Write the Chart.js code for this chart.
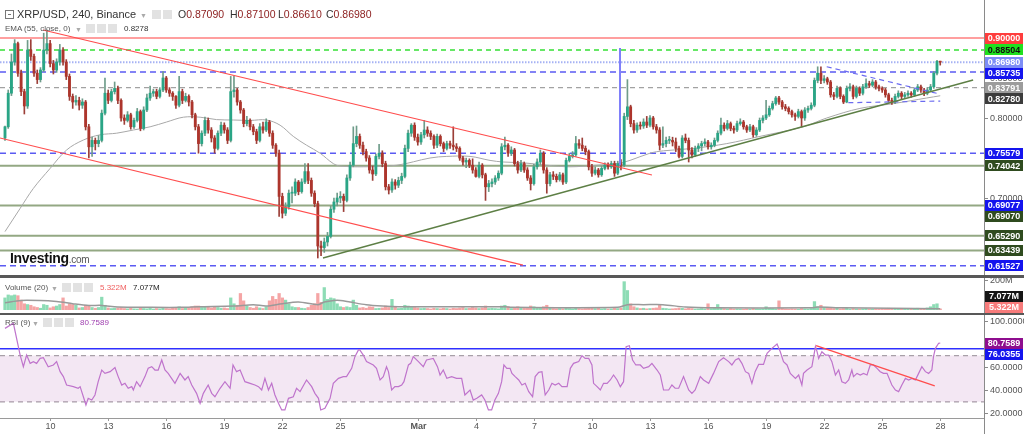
<!DOCTYPE html>
<html>
<head>
<meta charset="utf-8">
<script src="https://cdn.jsdelivr.net/npm/chart.js@4.4.1/dist/chart.umd.min.js"></script>
<style>
html, body { margin: 0; padding: 0; background: #fff; }
#wrap { position: relative; width: 1024px; height: 434px; overflow: hidden; font-family: Arial, "Liberation Sans", sans-serif; }
canvas { position: absolute; left: 0; }
.sep { position: absolute; left: 0; width: 1024px; background: #585858; }
.txt { position: absolute; white-space: nowrap; color: #333; line-height: 1; }
.ic { position: absolute; width: 9px; height: 9px; background: #e2e2e2; }
.dd { position: absolute; color: #aaa; font-size: 7px; }
.num { color: #8b1c1c; }
</style>
</head>
<body>
<div id="wrap">
  <canvas id="main" width="1024" height="275" style="top:0"></canvas>
  <div class="sep" style="top:275px;height:3px"></div>
  <canvas id="vol" width="1024" height="35" style="top:278px"></canvas>
  <div class="sep" style="top:313px;height:2px"></div>
  <canvas id="rsi" width="1024" height="119" style="top:315px"></canvas>

  <!-- header -->
  <div style="position:absolute;left:5px;top:10px;width:7px;height:7px;border:1px solid #777"><div style="position:absolute;left:2px;top:3px;width:3px;height:1px;background:#777"></div></div>
  <div class="txt" style="left:17px;top:9px;font-size:11px;color:#333">XRP/USD, 240, Binance</div>
  <div class="dd" style="left:140px;top:12px">&#9660;</div>
  <div class="ic" style="left:152px;top:10px"></div><div class="ic" style="left:163px;top:10px"></div>
  <div class="txt" style="left:178px;top:9px;font-size:10.5px">O<span class="num">0.87090</span></div>
  <div class="txt" style="left:230px;top:9px;font-size:10.5px">H<span class="num">0.87100</span></div>
  <div class="txt" style="left:278px;top:9px;font-size:10.5px">L<span class="num">0.86610</span></div>
  <div class="txt" style="left:326px;top:9px;font-size:10.5px">C<span class="num">0.86980</span></div>

  <div class="txt" style="left:5px;top:25px;font-size:8px;color:#555">EMA (55, close, 0)</div>
  <div class="dd" style="left:75px;top:26px">&#9660;</div>
  <div class="ic" style="left:86px;top:24px"></div><div class="ic" style="left:97px;top:24px"></div><div class="ic" style="left:108px;top:24px"></div>
  <div class="txt" style="left:124px;top:25px;font-size:8px;color:#333">0.8278</div>

  <div class="txt" style="left:10px;top:251px;font-size:14px;font-weight:bold;color:#111;letter-spacing:-0.3px">Investing<span style="font-size:10px;font-weight:normal;color:#555">.com</span></div>

  <div class="txt" style="left:5px;top:284px;font-size:8px;color:#555">Volume (20)</div>
  <div class="dd" style="left:51px;top:285px">&#9660;</div>
  <div class="ic" style="left:62px;top:283px"></div><div class="ic" style="left:73px;top:283px"></div><div class="ic" style="left:84px;top:283px"></div>
  <div class="txt" style="left:100px;top:284px;font-size:8px;color:#f06060">5.322M</div>
  <div class="txt" style="left:133px;top:284px;font-size:8px;color:#222">7.077M</div>

  <div class="txt" style="left:5px;top:319px;font-size:8px;color:#555">RSI (9)</div>
  <div class="dd" style="left:32px;top:320px">&#9660;</div>
  <div class="ic" style="left:43px;top:318px"></div><div class="ic" style="left:54px;top:318px"></div><div class="ic" style="left:65px;top:318px"></div>
  <div class="txt" style="left:80px;top:319px;font-size:8px;color:#a040b0">80.7589</div>
</div>

<script>
// ---- data: 4h candles (index 0 = Feb 7 16:00), prices x1000 ----
const dayTicks = [14, 32, 50, 68, 86, 104, 128, 146, 164, 182, 200, 218, 236, 254, 272, 290];
const dayLabels = ['10', '13', '16', '19', '22', '25', 'Mar', '4', '7', '10', '13', '16', '19', '22', '25', '28'];

const firstOpen = 775;
const closes = [
  789,831,870,893,856,833,815,885,877,856,
  848,860,885,893,868,860,870,885,870,852,
  827,820,822,816,820,789,764,772,768,772,
  806,831,822,833,837,822,800,797,804,789,
  797,808,787,810,825,831,833,827,835,850,
  835,831,827,816,833,822,827,820,804,789,
  768,781,797,785,775,762,781,791,785,772,
  833,835,820,810,793,797,789,783,772,789,
  785,795,781,766,756,702,681,689,706,706,
  720,708,720,733,722,706,693,640,638,645,
  652,686,695,700,702,697,725,741,768,777,
  766,758,750,735,730,752,756,743,714,710,
  720,716,722,727,762,781,791,776,770,779,
  785,781,777,766,777,768,762,768,766,764,
  762,750,745,747,741,735,727,741,729,714,
  718,720,725,731,764,766,756,760,743,735,
  743,735,725,718,739,745,756,735,718,729,
  727,723,729,720,747,752,754,768,766,762,
  758,739,731,735,729,737,741,739,743,731,
  743,741,802,814,793,785,791,790,795,791,
  800,789,785,766,768,772,772,770,762,752,
  775,772,760,754,762,765,768,770,764,766,
  772,781,791,787,793,787,785,793,795,789,
  785,789,779,785,797,800,804,812,818,825,
  820,814,812,808,804,802,808,800,810,812,
  816,847,856,847,849,845,829,827,837,827,
  820,837,839,827,837,831,839,843,841,845,
  839,837,835,829,822,820,827,831,827,829,
  831,829,835,839,835,831,835,839,856,870.9,
  869.8
];
const highs = [
  790,835,880,898,895,860,836,897,898,880,
  860,863,906,910,897,872,874,892,888,873,
  855,830,828,826,824,822,792,776,775,778,
  810,850,835,836,845,840,824,804,808,806,
  800,812,810,814,830,840,836,836,838,858,
  852,838,833,828,852,836,831,829,822,806,
  792,784,801,800,788,778,784,795,794,788,
  852,852,837,822,812,802,799,792,786,793,
  795,799,797,784,768,760,706,694,710,714,
  724,722,724,743,743,725,709,696,646,650,
  657,690,700,706,708,705,729,745,789,790,
  780,770,761,753,740,755,767,759,746,717,
  724,723,726,731,766,785,793,794,780,782,
  797,789,784,779,780,779,770,771,771,789,
  768,764,752,750,749,749,738,745,743,731,
  722,724,728,734,768,776,768,764,762,746,
  747,745,738,728,742,749,760,758,738,732,
  733,730,732,731,750,756,758,777,773,775,
  765,760,742,739,737,740,744,744,746,746,
  746,748,806,848,816,797,794,795,799,802,
  803,802,792,788,789,776,777,776,775,765,
  778,780,775,763,765,768,771,774,772,769,
  775,784,800,794,797,795,790,796,799,797,
  791,792,791,788,800,803,822,815,821,827,
  827,822,817,814,810,806,811,810,813,815,
  819,850,864,864,853,851,847,832,840,839,
  829,840,843,841,840,839,842,849,846,848,
  847,841,839,837,831,825,830,834,833,832,
  834,833,837,842,841,837,838,842,858,872,
  871
];
const lows = [
  772,787,828,866,852,828,805,812,872,852,
  843,845,858,880,864,855,857,866,866,848,
  822,812,816,810,812,785,750,752,760,764,
  770,804,818,820,830,818,796,792,795,786,
  787,795,784,785,808,822,827,824,825,833,
  832,827,822,812,814,818,820,815,800,785,
  756,765,778,781,770,756,760,778,781,768,
  770,826,816,806,789,790,785,779,768,770,
  781,783,777,762,752,677,675,678,686,694,
  703,704,706,718,718,702,689,625,628,632,
  640,650,682,690,694,683,695,722,739,764,
  762,754,746,731,722,728,749,739,710,705,
  707,711,713,718,725,758,777,772,766,767,
  775,777,773,762,763,765,758,760,762,760,
  758,747,741,738,738,731,726,725,725,697,
  708,714,717,722,729,760,752,753,740,731,
  733,732,722,710,716,736,742,731,706,715,
  723,720,721,717,718,745,750,752,762,759,
  754,735,727,729,726,727,735,736,737,727,
  729,735,739,798,789,781,782,786,787,788,
  789,786,781,760,763,764,768,765,758,750,
  750,769,745,750,752,758,759,765,761,761,
  764,770,779,784,785,784,781,783,791,786,
  782,783,776,777,783,794,798,802,810,816,
  817,811,809,805,801,797,800,789,797,807,
  810,814,844,843,844,842,826,823,825,824,
  818,819,834,824,825,828,829,837,838,839,
  836,834,832,826,820,817,818,825,824,825,
  827,826,827,833,832,828,829,833,837,854,
  866.1
];
// volume per candle, millions
const volumes = [
  80,100,95,100,95,65,40,35,30,20,
  15,10,35,30,12,20,25,35,80,25,
  40,35,30,12,15,30,30,15,10,15,
  85,30,12,8,10,12,15,8,6,10,
  6,5,10,8,6,12,5,8,6,10,
  8,6,10,12,20,8,15,12,20,25,
  25,15,20,18,12,20,15,10,12,8,
  80,40,30,110,60,25,15,10,20,12,
  8,20,60,90,70,110,80,65,40,20,
  15,15,10,8,15,30,40,110,50,150,
  70,80,75,40,20,15,20,15,65,30,
  12,15,10,20,18,8,10,12,25,15,
  70,20,8,10,30,25,15,15,12,8,
  10,8,5,10,8,6,10,8,5,10,
  8,12,15,8,10,15,12,8,12,25,
  8,10,8,6,25,30,20,8,15,20,
  10,15,12,25,20,10,15,20,30,10,
  8,6,8,6,10,8,6,12,8,6,
  8,10,12,8,10,6,8,5,6,10,
  8,12,190,130,40,20,12,8,10,6,
  8,10,12,30,10,8,5,6,8,12,
  10,6,10,8,5,6,8,5,40,8,
  10,35,15,8,6,8,5,6,5,4,
  6,5,8,6,5,6,20,10,8,6,
  60,10,6,5,6,5,4,8,6,5,
  8,55,20,30,15,10,12,8,10,6,
  8,10,5,8,6,5,6,8,5,4,
  6,5,8,6,10,8,6,5,4,6,
  5,8,6,10,6,8,12,20,35,40,
  5.322
];
// [candle index, value]
const volumeMa = [[0,47],[5,63],[16,56],[21,41],[26,29],[30,29],[35,18],[45,16],[55,16],[60,20],[71,25],[77,34],[81,25],[86,41],[91,52],[97,34],[99,52],[102,63],[104,63],[107,52],[112,34],[117,25],[122,20],[130,20],[155,20],[157,16],[190,16],[193,34],[198,34],[204,34],[211,18],[220,13],[250,13],[252,18],[260,13],[290,7.077]];
const ema55 = [[0,0.658],[4.7,0.687],[8.8,0.712],[14,0.737],[19.1,0.76],[24.3,0.7725],[29.5,0.779],[34.6,0.781],[39.8,0.785],[45,0.789],[50.1,0.795],[55.3,0.801],[60.5,0.801],[65.6,0.798],[70.8,0.7975],[76,0.797],[81.1,0.7975],[85.3,0.791],[89.4,0.777],[93.5,0.766],[97.7,0.756],[101.8,0.743],[104,0.74],[111.1,0.739],[121.5,0.741],[131.8,0.75],[137,0.752],[144.2,0.752],[150.4,0.747],[154.5,0.745],[160.7,0.744],[168,0.741],[175.2,0.739],[183.5,0.741],[189.7,0.743],[193.8,0.747],[200,0.756],[204.2,0.759],[213.4,0.762],[223.8,0.768],[234.1,0.777],[247.5,0.789],[254.8,0.8],[265.1,0.812],[275.5,0.818],[285.8,0.825],[290,0.8278]];
const rsi9 = [
  [0,93.6],[2.6,98],[4.7,70.5],[5.7,60.4],[6.7,70.5],[7.8,63.3],[8.8,64.8],[9.8,63.3],[10.9,67.6],[11.9,68.2],
  [13.4,60.4],[15,61.9],[16,64.8],[17.1,56.1],[18.1,51.8],[19.1,44.5],[21.2,43.1],[22.7,41.7],[23.3,43.1],[24.3,34.4],
  [25.1,27.2],[25.8,33],[26.9,31.5],[27.9,35.9],[28.9,47.4],[30,57.5],[31,54.6],[32.6,56.1],[34.1,59.6],[35.1,51.8],
  [36.2,44.5],[37.2,46],[38.2,41.7],[39.3,43.1],[39.8,40.2],[40.8,47.4],[41.9,43.1],[43.4,51.8],[44.4,59],[45.5,60.4],
  [46.5,57.5],[47.5,57.5],[48.6,66.2],[49.6,57.5],[50.6,54.6],[52.7,46],[54.3,54.6],[55.8,48.9],[56.8,51.8],[57.9,44.5],
  [59.4,37.3],[60.5,28.7],[61.5,37.3],[63,44.5],[64.1,37.3],[65.1,34.4],[66.7,41.7],[68.2,47.4],[69.8,41.7],[70.7,61.9],
  [71.8,56.1],[72.9,57.5],[74.4,47.4],[76,46],[77.5,44.5],[78.6,43.1],[79.6,40.2],[80.6,50.3],[81.7,40.2],[82.7,46],
  [83.7,35.9],[84.8,28.7],[85.8,22.9],[86.8,22.9],[87.9,33],[89.4,34.4],[90.4,41.7],[91.5,38.8],[93.5,48.9],[95.1,43.1],
  [96.1,37.3],[97.2,33],[97.9,22.9],[99.2,24.3],[100.8,33],[101.8,46],[103.4,50.3],[104.9,51.8],[105.9,51.8],[107.5,59],
  [108.5,69.1],[109.6,74.9],[110,74.9],[111.1,70.5],[112.1,64.8],[114.2,61.9],[115.2,59],[116.3,48.9],[117.3,51.8],[118.3,60.4],
  [118.9,56.1],[119.9,40.2],[120.9,43.1],[122,43.1],[123,44.5],[123.7,47.4],[125.1,61.9],[125.8,63.3],[126.6,69.1],[128.2,64.8],
  [129.7,60.4],[130.7,66.2],[132.8,67.6],[134.1,60.4],[134.9,53.2],[135.9,57.5],[137,50.3],[138.5,51.8],[140,50.3],[141.6,50.3],
  [142.6,35.9],[144.2,40.2],[145.2,31.5],[146.3,33],[147.8,35.9],[148.8,31.5],[149.9,22.9],[150.9,22.9],[151.9,31.5],[153,37.3],
  [154,47.4],[154.7,61.9],[155.6,59],[156.6,59],[157.2,54.6],[158.2,51.8],[159.3,48.9],[160.3,44.5],[161.3,46],[162.4,38.8],
  [163.6,34.4],[164.4,51.8],[165.5,55.5],[166.5,56.1],[167.5,35.9],[168.6,40.2],[169.6,46],[170.6,44.5],[171.7,46],[172.7,43.1],
  [174.3,43.1],[175.3,59],[176.3,63.3],[177.9,64.8],[178.9,70],[179.9,67.6],[181,67.6],[182,61.9],[182.5,46],[183.6,43.1],
  [184.6,40.2],[185.6,46],[186.7,46],[187.7,48.9],[188.7,53.2],[189.8,48.9],[190.8,43.1],[191.8,47.4],[192.6,77.8],[193.6,78.6],
  [194.6,66.2],[195.6,61.9],[197,61.9],[198,59],[199.6,60.4],[200.6,63.3],[202.2,57.5],[203.2,53.2],[204.2,40.2],[205.8,40.2],
  [206.8,44.5],[207.8,41.7],[208.9,41.7],[210.4,51.8],[212,40.2],[213,37.3],[214,40.2],[215.6,51.8],[216.6,48.9],[218.2,46],
  [219.7,54.6],[221.3,64.8],[222.8,68.2],[224.4,64.8],[225.4,61.9],[226.5,66.2],[227.5,67.6],[228.5,63.3],[229.6,56.1],[230.6,54.6],
  [231.6,46],[232.6,56.1],[233.7,62.4],[235.2,62.4],[236.3,72],[237.8,76.3],[239.4,80.1],[240.4,73.4],[241.4,64.8],[242.5,61.9],
  [243.5,54.6],[245.1,50.3],[246.1,53.2],[247.1,44.5],[247.6,54.6],[248.7,57.5],[250.2,60.4],[251.3,77.8],[251.8,73.4],[252.3,67.6],
  [253.3,73.4],[254.4,70.5],[255.4,70.5],[256.4,64.8],[257.5,53.2],[258.5,57.5],[259.5,47.4],[260.6,46],[261.6,48.9],[262.6,57.5],
  [263.1,51.8],[264.2,54.6],[265.2,53.2],[266.2,54.6],[267.3,53.2],[268.3,61.9],[269.3,61.9],[270.4,59],[271.4,56.1],[272.4,54.6],
  [273.5,54.6],[275,44.5],[276.1,40.2],[277.1,38.8],[278.1,44.5],[279.2,50.3],[280.2,48.9],[281.2,50.3],[282.3,48.9],[283.3,54.6],
  [284.3,60.4],[285.4,56.1],[286.4,54.6],[287.4,57.5],[287.9,69.1],[288.5,76.3],[289.5,80.7],[290,80.7589]
];

// horizontal levels
const resistanceRed = [0.90000];
const levelGreenDash = [0.88504];
const lastPrice = 0.86980;
const levelsBlueDash = [0.85735, 0.75579, 0.61527];
const levelGreyDash = [0.83791];
const levelsOlive = [0.74042, 0.69070, 0.65290, 0.63439];
const blueMark = 0.69077;
const emaLast = 0.82780;
const priceTicks = [0.85, 0.80, 0.70];

// trend lines as [candle index, price] pairs
const channelTop = [[11.8, 0.910], [200.6, 0.7288]];
const channelBottom = [[-1.55, 0.775], [160.6, 0.616]];
const risingLine = [[98.6, 0.625], [300.2, 0.8475]];
const triangleTop = [[254.8, 0.8641], [288.9, 0.8309]];
const triangleBottom = [[261.5, 0.8191], [290, 0.8212]];
const spikeMarker = [[190.7, 0.8875], [190.7, 0.741]];

// volume / rsi axis values
const volTicks = [200];
const volMaLast = 7.077, volLast = 5.322;
const rsiTicks = [100, 80, 60, 40, 20];
const rsiBands = [70, 30];
const rsiLevel = 76.0355;
const rsiLast = 80.7589;
const rsiTrend = [[251.5, 78.6], [288.3, 43.7]];

// ---- build ----
const xMin = -1.55, xMax = 303.57;
const C = closes.map(v => v / 1000);
const H = highs.map(v => v / 1000);
const L = lows.map(v => v / 1000);
const O = C.map((c, i) => i ? C[i - 1] : firstOpen / 1000);
const up = C.map((c, i) => c >= O[i]);

const UP = '#2aa586', DOWN = '#ad352c';

function hLine(v, color, width, dash, order) {
  return { type: 'line', data: [{ x: xMin, y: v }, { x: xMax, y: v }], borderColor: color, borderWidth: width,
    borderDash: dash || [], pointRadius: 0, order: order === undefined ? 20 : order };
}
function seg(pts, color, width, dash, order) {
  return { type: 'line', data: pts.map(p => ({ x: p[0], y: p[1] })), borderColor: color, borderWidth: width,
    borderDash: dash || [], pointRadius: 0, order: order === undefined ? 2 : order };
}

const sideAxis = {
  id: 'sideAxis',
  afterDraw(chart, args, opts) {
    const { ctx, chartArea } = chart;
    const y = chart.scales.y;
    const r = chartArea.right;
    ctx.save();
    ctx.strokeStyle = '#8a8a8a';
    ctx.lineWidth = 1;
    ctx.beginPath();
    ctx.moveTo(r + 0.5, 0);
    ctx.lineTo(r + 0.5, chart.height);
    ctx.stroke();
    ctx.font = '9px Arial';
    ctx.fillStyle = '#555';
    ctx.textBaseline = 'middle';
    ctx.textAlign = 'left';
    (opts.ticks || []).forEach(t => {
      const py = Math.round(y.getPixelForValue(t.v)) + 0.5;
      ctx.beginPath();
      ctx.moveTo(r, py);
      ctx.lineTo(r + 4, py);
      ctx.stroke();
      ctx.fillText(t.text, r + 6, py);
    });
    const h = 11;
    const boxes = (opts.boxes || []).map(b => Object.assign({}, b, { py: y.getPixelForValue(b.v) }));
    if (opts.stackUp) {
      boxes.sort((a, b) => b.py - a.py);
      let lim = chart.height;
      boxes.forEach(b => { b.py = Math.min(b.py, lim - h / 2); lim = b.py - h / 2; });
    } else {
      boxes.sort((a, b) => a.py - b.py);
      let lim = -1e9;
      boxes.forEach(b => { b.py = Math.max(b.py, lim + h / 2); lim = b.py + h / 2; });
    }
    ctx.font = 'bold 9px Arial';
    ctx.textAlign = 'center';
    boxes.forEach(b => {
      ctx.fillStyle = b.bg;
      ctx.fillRect(r + 1, Math.round(b.py - h / 2), 38, h);
      ctx.fillStyle = b.fg || '#fff';
      ctx.fillText(b.text, r + 20, b.py + 0.5);
    });
    if (opts.xLabels) {
      const x = chart.scales.x;
      const bottom = chartArea.bottom;
      ctx.strokeStyle = '#9a9a9a';
      ctx.beginPath();
      ctx.moveTo(0, bottom + 0.5);
      ctx.lineTo(r, bottom + 0.5);
      ctx.stroke();
      ctx.textBaseline = 'middle';
      dayTicks.forEach((k, i) => {
        const px = Math.round(x.getPixelForValue(k)) + 0.5;
        ctx.beginPath();
        ctx.moveTo(px, bottom);
        ctx.lineTo(px, bottom + 3);
        ctx.stroke();
        ctx.fillStyle = '#555';
        ctx.font = (dayLabels[i] === 'Mar' ? 'bold ' : '') + '9px Arial';
        ctx.fillText(dayLabels[i], px, bottom + 9);
      });
    }
    ctx.restore();
  }
};

function baseOptions(yMin, yMax, pad, side) {
  return {
    responsive: false, animation: false, events: [],
    layout: { padding: pad },
    scales: {
      x: { type: 'linear', min: xMin, max: xMax, offset: false, display: false },
      y: { type: 'linear', min: yMin, max: yMax, display: false }
    },
    plugins: { legend: { display: false }, tooltip: { enabled: false }, sideAxis: side }
  };
}

const idx = C.map((c, i) => i);
const fmt5 = v => v.toFixed(5);

// main price chart
const mainSets = [];
resistanceRed.forEach(v => mainSets.push(hLine(v, '#ff4040', 1.2)));
levelGreenDash.forEach(v => mainSets.push(hLine(v, '#35e035', 1.5, [5, 4])));
mainSets.push(hLine(lastPrice, '#a6b2f4', 2, [1.5, 1.5]));
levelsBlueDash.forEach(v => mainSets.push(hLine(v, '#5b5bf2', 1.5, [6, 4])));
levelGreyDash.forEach(v => mainSets.push(hLine(v, '#a2a2a2', 1.2, [5, 4])));
levelsOlive.forEach(v => mainSets.push(hLine(v, '#93a883', 2)));
mainSets.push({ type: 'line', data: ema55.map(p => ({ x: p[0], y: p[1] })), borderColor: '#a8a8a8', borderWidth: 1,
  pointRadius: 0, tension: 0.35, order: 8 });
mainSets.push({ type: 'bar', data: idx.map(i => ({ x: i, y: [L[i], H[i]] })), grouped: false, barThickness: 1,
  backgroundColor: up.map(u => u ? '#6f9c8a' : '#9c3f38'), order: 6 });
mainSets.push({ type: 'bar', data: idx.map(i => ({ x: i, y: [O[i], C[i]] })), grouped: false, barThickness: 2.2,
  minBarLength: 1, backgroundColor: up.map(u => u ? UP : DOWN), order: 5 });
mainSets.push(seg(channelTop, '#ff4d4d', 1.2));
mainSets.push(seg(channelBottom, '#ff4d4d', 1.2));
mainSets.push(seg(risingLine, '#5d7f45', 1.3));
mainSets.push(seg(triangleTop, '#6b6bf0', 1.2, [5, 4]));
mainSets.push(seg(triangleBottom, '#6b6bf0', 1.2, [5, 4]));
mainSets.push(seg(spikeMarker, '#7f7ffa', 2));

const mainBoxes = [
  { v: resistanceRed[0], text: fmt5(resistanceRed[0]), bg: '#ff3d3d' },
  { v: levelGreenDash[0], text: fmt5(levelGreenDash[0]), bg: '#1fe01f', fg: '#111' },
  { v: lastPrice, text: fmt5(lastPrice), bg: '#7d8df6' },
  { v: levelsBlueDash[0], text: fmt5(levelsBlueDash[0]), bg: '#1414ee' },
  { v: levelGreyDash[0], text: fmt5(levelGreyDash[0]), bg: '#9c9c9c' },
  { v: emaLast, text: fmt5(emaLast), bg: '#3c3c3c' },
  { v: levelsBlueDash[1], text: fmt5(levelsBlueDash[1]), bg: '#1414ee' },
  { v: levelsOlive[0], text: fmt5(levelsOlive[0]), bg: '#2f4b1f' },
  { v: blueMark, text: fmt5(blueMark), bg: '#1414ee' },
  { v: levelsOlive[1], text: fmt5(levelsOlive[1]), bg: '#2f4b1f' },
  { v: levelsOlive[2], text: fmt5(levelsOlive[2]), bg: '#2f4b1f' },
  { v: levelsOlive[3], text: fmt5(levelsOlive[3]), bg: '#2f4b1f' },
  { v: levelsBlueDash[2], text: fmt5(levelsBlueDash[2]), bg: '#1414ee' }
];

new Chart(document.getElementById('main'), {
  type: 'bar',
  data: { datasets: mainSets },
  options: baseOptions(0.60375, 0.9475, { left: 0, right: 40, top: 0, bottom: 0 },
    { ticks: priceTicks.map(v => ({ v, text: fmt5(v) })), boxes: mainBoxes }),
  plugins: [sideAxis]
});

// volume chart
new Chart(document.getElementById('vol'), {
  type: 'bar',
  data: {
    datasets: [
      { type: 'line', data: volumeMa.map(p => ({ x: p[0], y: p[1] })), borderColor: '#9a9a9a', borderWidth: 1.5,
        pointRadius: 0, tension: 0.3, order: 1 },
      { type: 'bar', data: idx.map(i => ({ x: i, y: volumes[i] })), grouped: false, barThickness: 2.6,
        backgroundColor: up.map(u => u ? '#8ddcb5' : '#f5a5a5'), order: 3 }
    ]
  },
  options: baseOptions(-22.4, 214.9, { left: 0, right: 40, top: 0, bottom: 0 },
    { ticks: volTicks.map(v => ({ v, text: v + 'M' })), stackUp: true,
      boxes: [
        { v: volLast, text: volLast.toFixed(3) + 'M', bg: '#f77b7b' },
        { v: volMaLast, text: volMaLast.toFixed(3) + 'M', bg: '#151515' }
      ] }),
  plugins: [sideAxis]
});

// rsi chart
new Chart(document.getElementById('rsi'), {
  type: 'line',
  data: {
    datasets: [
      Object.assign(hLine(rsiBands[0], '#a8a0a8', 1.2, [5, 4], 10), { fill: '+1', backgroundColor: 'rgba(160, 60, 160, 0.12)' }),
      hLine(rsiBands[1], '#a8a0a8', 1.2, [5, 4], 11),
      hLine(rsiLevel, '#3030ff', 1.5, [], 9),
      { type: 'line', data: rsi9.map(p => ({ x: p[0], y: p[1] })), borderColor: '#bf74cc', borderWidth: 1.2,
        pointRadius: 0, order: 3 },
      seg(rsiTrend, '#ff4d4d', 1.3, [], 1)
    ]
  },
  options: baseOptions(15.94, 104.33, { left: 0, right: 40, top: 1, bottom: 16 },
    { ticks: rsiTicks.map(v => ({ v, text: v.toFixed(4) })), xLabels: true,
      boxes: [
        { v: rsiLast, text: rsiLast.toFixed(4), bg: '#8e0d8e' },
        { v: rsiLevel, text: rsiLevel.toFixed(4), bg: '#1414ee' }
      ] }),
  plugins: [sideAxis]
});
</script>
</body>
</html>
